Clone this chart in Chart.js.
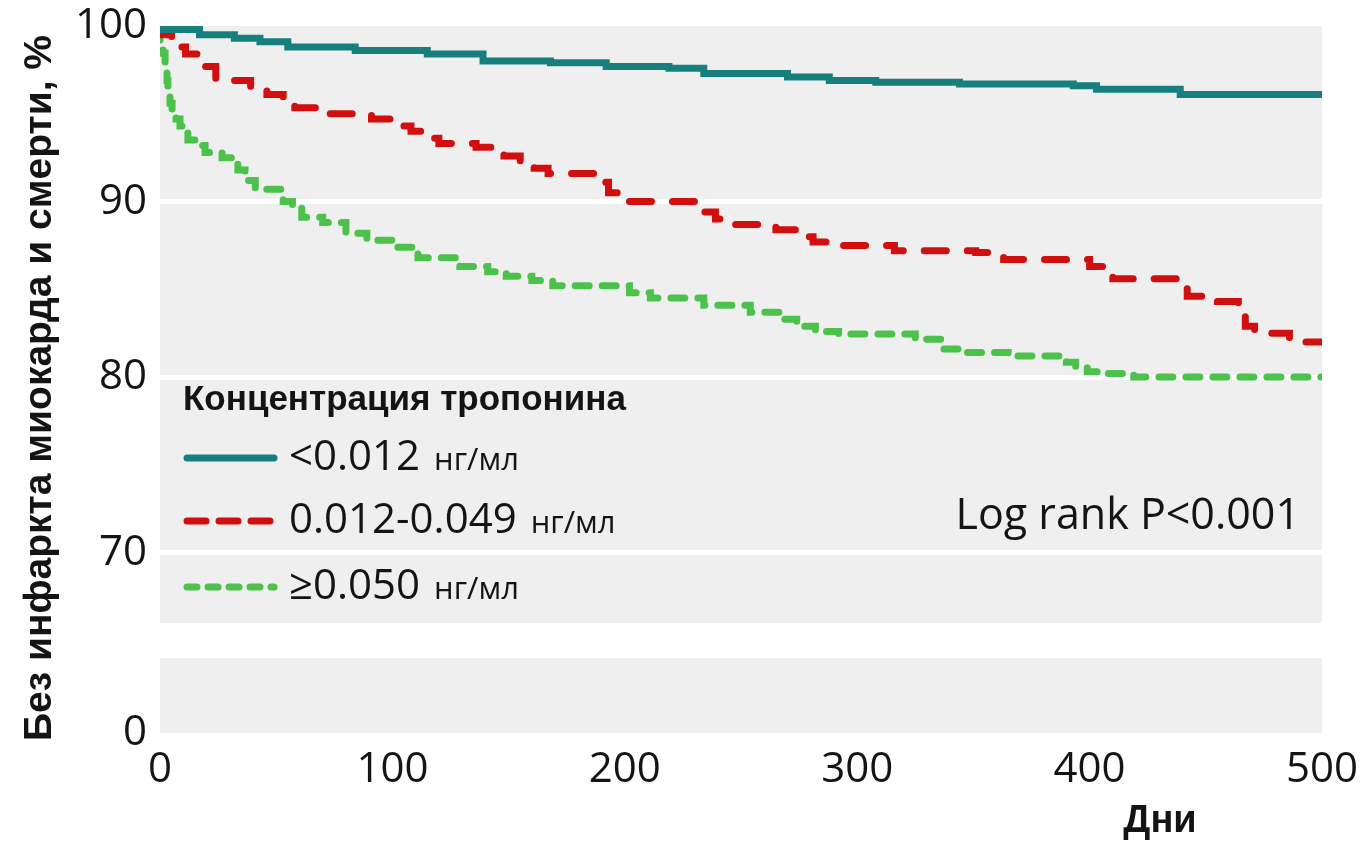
<!DOCTYPE html>
<html lang="ru">
<head>
<meta charset="utf-8">
<title>Без инфаркта миокарда и смерти</title>
<script src="https://cdn.jsdelivr.net/npm/chart.js@4.4.1/dist/chart.umd.min.js"></script>
<style>
  html, body { margin: 0; padding: 0; background: #fff; }
  #wrap { width: 1365px; height: 845px; }
</style>
</head>
<body>
<div id="wrap"><canvas id="kmChart" width="1365" height="845"></canvas></div>
<script>
// --- Kaplan-Meier steps: day of change and % free of MI / death after it ---
const lowDays  = [0, 17, 32, 43, 55, 84, 115, 139, 168, 192, 219, 234, 270, 288, 308, 344, 393, 403, 439, 469, 500];
const lowSurv  = [100, 99.8, 99.5, 99.3, 99.1, 98.8, 98.6, 98.4, 98.0, 97.9, 97.7, 97.6, 97.3, 97.1, 96.9, 96.8, 96.7, 96.6, 96.4, 96.1, 96.1];

const midDays  = [0, 5, 11, 19, 24, 39, 46, 53, 58, 73, 91, 101, 108, 116, 120, 136, 148, 155, 161, 167, 188, 193, 197, 232, 239, 247, 265, 275, 281, 290, 316, 351, 363, 400, 406, 410, 439, 442, 455, 464, 467, 471, 486, 489, 500];
const midSurv  = [100, 99.5, 98.8, 98.4, 97.7, 96.9, 96.5, 96.1, 95.7, 95.35, 95.0, 94.7, 94.3, 94.0, 93.6, 93.3, 93.1, 92.6, 92.2, 91.9, 91.6, 91.1, 90.5, 90.0, 89.4, 89.0, 88.7, 88.4, 88.0, 87.7, 87.5, 87.2, 87.1, 86.7, 86.3, 85.9, 85.6, 85.2, 84.6, 84.3, 83.7, 82.9, 82.5, 82.0, 82.0];

const highDays = [0, 1.3, 2.2, 3, 3.4, 4.3, 5.2, 6.9, 8.6, 10.3, 12, 15.5, 19.4, 26.7, 33.5, 36.6, 41, 53, 57, 61, 70, 80, 89, 100, 111, 129, 141, 149, 160, 169, 202, 211, 234, 254, 268, 274, 282, 292, 325, 336, 345, 365, 390, 394, 399, 406, 419, 439, 500];
const highSurv = [100, 99.2, 98.45, 97.6, 96.9, 96.2, 95.6, 95.1, 94.7, 94.3, 93.9, 93.5, 93.2, 92.8, 92.5, 91.8, 91.2, 90.7, 90.0, 89.65, 89.1, 88.8, 88.2, 87.8, 87.4, 86.8, 86.3, 86.0, 85.75, 85.5, 85.2, 84.8, 84.5, 84.1, 83.7, 83.3, 82.9, 82.6, 82.45, 82.15, 81.6, 81.4, 81.2, 80.85, 80.6, 80.3, 80.2, 80.0, 80.0];

const seriesLabels = ["<0.012", "0.012-0.049", "≥0.050"];
const seriesUnit = "нг/мл";
const legendTitle = "Концентрация тропонина";
const xTicks = [0, 100, 200, 300, 400, 500];
const yTicks = [70, 80, 90, 100];
const yLowTicks = [0];
const yBreak = 66; // upper panel stops here, axis resumes at 0 below

const textColor = "#141414";
const panelGray = "#efefef";
const numFont = '"Open Sans", "Noto Sans", sans-serif';
const boldFont = '"Liberation Sans", Arial, sans-serif';

const toPoints = (days, vals) => days.map((d, i) => ({ x: d, y: vals[i] }));
const useTicks = list => scale => { scale.ticks = list.map(v => ({ value: v })); };

// gray panels behind the broken y axis
const panels = {
  id: "panels",
  beforeDraw(chart) {
    const { ctx, chartArea, scales } = chart;
    const w = chartArea.right - chartArea.left;
    const top = scales.y.getPixelForValue(100);
    const cut = scales.y.getPixelForValue(yBreak);
    ctx.save();
    ctx.fillStyle = panelGray;
    ctx.fillRect(chartArea.left, top, w, cut - top);
    ctx.fillRect(chartArea.left, scales.y2.top, w, scales.y2.bottom - scales.y2.top);
    ctx.restore();
  }
};

// axis titles, legend and log-rank note
const annotations = {
  id: "annotations",
  afterDraw(chart) {
    const { ctx } = chart;
    ctx.save();
    ctx.fillStyle = textColor;

    ctx.save();
    ctx.font = "bold 39px " + boldFont;
    ctx.textAlign = "center";
    ctx.textBaseline = "middle";
    ctx.translate(40, 388);
    ctx.rotate(-Math.PI / 2);
    ctx.fillText("Без инфаркта миокарда и смерти, %", 0, 0);
    ctx.restore();

    ctx.font = "bold 38px " + boldFont;
    ctx.textAlign = "center";
    ctx.textBaseline = "alphabetic";
    ctx.fillText("Дни", 1160, 832);

    ctx.font = "43px " + numFont;
    ctx.textAlign = "right";
    ctx.textBaseline = "middle";
    ctx.fillText("Log rank P<0.001", 1300, 517);

    // legend
    ctx.textAlign = "left";
    ctx.font = "bold 35px " + boldFont;
    ctx.textBaseline = "alphabetic";
    ctx.fillText(legendTitle, 183, 410);

    const rows = [458, 521, 587];
    chart.data.datasets.forEach((ds, i) => {
      const y = rows[i];
      ctx.save();
      ctx.strokeStyle = ds.borderColor;
      ctx.lineWidth = ds.borderWidth;
      ctx.lineCap = "round";
      ctx.setLineDash(ds.legendDash || []);
      ctx.beginPath();
      ctx.moveTo(187, y);
      ctx.lineTo(274, y);
      ctx.stroke();
      ctx.restore();

      ctx.textBaseline = "middle";
      ctx.font = "42px " + numFont;
      ctx.fillText(seriesLabels[i], 289, y);
      const w = ctx.measureText(seriesLabels[i]).width;
      ctx.font = "31px " + numFont;
      ctx.fillText(seriesUnit, 289 + w + 14, y + 3);
    });
    ctx.restore();
  }
};

const tickStyle = { font: { family: numFont, size: 42 }, color: textColor };
// short line height on the y labels keeps their half-height inside the top padding
const yTickStyle = { font: { family: numFont, size: 42, lineHeight: 0.6 }, color: textColor, padding: 13 };

new Chart(document.getElementById("kmChart"), {
  type: "line",
  data: {
    datasets: [
      {
        label: seriesLabels[0],
        data: toPoints(lowDays, lowSurv),
        borderColor: "#17807f",
        borderWidth: 7,
        stepped: "after",
        yAxisID: "y"
      },
      {
        label: seriesLabels[1],
        data: toPoints(midDays, midSurv),
        borderColor: "#d10f0f",
        borderWidth: 7,
        borderDash: [22, 21],
        legendDash: [19, 13],
        borderCapStyle: "round",
        stepped: "after",
        yAxisID: "y"
      },
      {
        label: seriesLabels[2],
        data: toPoints(highDays, highSurv),
        borderColor: "#4cc24c",
        borderWidth: 7,
        borderDash: [14, 13],
        legendDash: [10, 11],
        borderCapStyle: "round",
        stepped: "after",
        yAxisID: "y"
      }
    ]
  },
  options: {
    responsive: false,
    animation: false,
    devicePixelRatio: 1,
    elements: { point: { radius: 0 }, line: { fill: false } },
    layout: { autoPadding: false, padding: { top: 26, right: 43, left: 0, bottom: 0 } },
    plugins: { legend: { display: false }, tooltip: { enabled: false } },
    scales: {
      x: {
        type: "linear",
        min: 0,
        max: 500,
        afterBuildTicks: useTicks(xTicks),
        afterFit: s => { s.height = 112; },
        grid: { display: false },
        border: { display: false },
        ticks: { ...tickStyle, padding: 4, maxRotation: 0 }
      },
      y: {
        type: "linear",
        position: "left",
        stack: "surv",
        stackWeight: 632,
        weight: 2,
        min: 64,
        max: 100,
        afterBuildTicks: useTicks(yTicks),
        afterFit: s => { s.width = 160; },
        grid: {
          color: c => (c.tick && c.tick.value === 100 ? "rgba(0,0,0,0)" : "#ffffff"),
          lineWidth: 5,
          drawTicks: false
        },
        border: { display: false },
        ticks: yTickStyle
      },
      y2: {
        type: "linear",
        position: "left",
        stack: "surv",
        stackWeight: 75,
        weight: 1,
        min: 0,
        max: 4,
        afterBuildTicks: useTicks(yLowTicks),
        afterFit: s => { s.width = 160; },
        grid: { display: false, drawTicks: false },
        border: { display: false },
        ticks: yTickStyle
      }
    }
  },
  plugins: [panels, annotations]
});
</script>
</body>
</html>
